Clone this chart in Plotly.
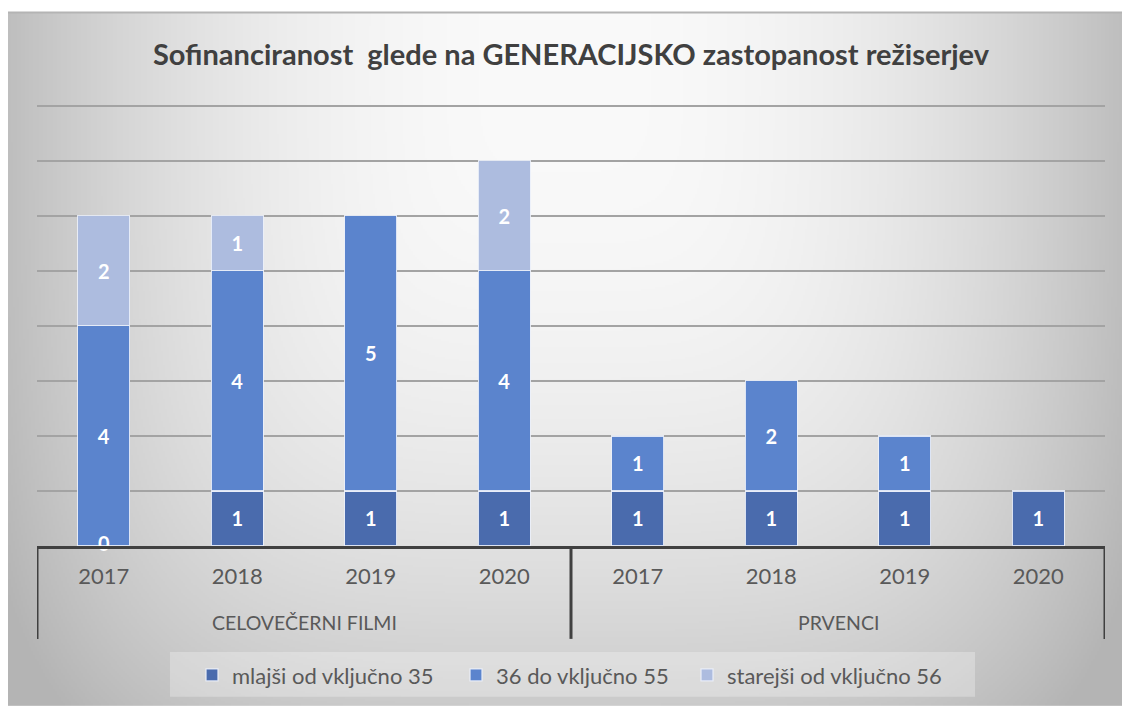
import base64, struct, zlib
import numpy as np
import plotly.graph_objects as go

# ---------------- data ----------------
groups = ["CELOVEČERNI FILMI"] * 4 + ["PRVENCI"] * 4
years = ["2017", "2018", "2019", "2020", "2017", "2018", "2019", "2020"]
series_names = ["mlajši od vključno 35", "36 do vključno 55", "starejši od vključno 56"]
mlajsi = [0, 1, 1, 1, 1, 1, 1, 1]
srednji = [4, 4, 5, 4, 1, 2, 1, None]
starejsi = [2, 1, None, 2, None, None, None, None]
title_text = "Sofinanciranost  glede na GENERACIJSKO zastopanost režiserjev"

colors = ["#4a6bad", "#5b84cd", "#adbcdf"]
FONT = "Lato"

# ---------------- background gradient image ----------------
W, H = 557, 347
X, Y = np.meshgrid(np.linspace(8, 1122, W), np.linspace(13, 707, H))
dx = np.abs((X - 565) / 580.0)
dy = np.abs((Y - 60) / 750.0)
d = (dx ** 4 + dy ** 4) ** 0.25
v = np.clip(250 - 65 * d ** 2.2, 180, 255).astype(np.uint8)
arr = np.stack([v, v, v], axis=-1)
raw = b"".join(b"\x00" + row.tobytes() for row in arr)


def chunk(t, data):
    return struct.pack(">I", len(data)) + t + data + struct.pack(">I", zlib.crc32(t + data) & 0xFFFFFFFF)


png = (b"\x89PNG\r\n\x1a\n" + chunk(b"IHDR", struct.pack(">IIBBBBB", W, H, 8, 2, 0, 0, 0))
       + chunk(b"IDAT", zlib.compress(raw, 9)) + chunk(b"IEND", b""))
bg_uri = "data:image/png;base64," + base64.b64encode(png).decode()

# ---------------- figure ----------------
FW, FH = 1122, 707
YMAX = 8
EXTRA = 0.1
L, R, B = 37, 1105, 547
T_GRID = 106
unit = (B - T_GRID) / YMAX
T = T_GRID - EXTRA * unit
pw, ph = R - L, B - T


def px_x(p):
    return (p - L) / pw


def px_y(p):
    return (B - p) / ph


keys = [f"{g}|{y}" for g, y in zip(groups, years)]
legend_ids = ["legend", "legend2", "legend3"]
legend_px = [192, 456, 687]

fig = go.Figure()
for name, vals, col, lid in zip(series_names, [mlajsi, srednji, starejsi], colors, legend_ids):
    fig.add_trace(go.Bar(
        x=keys, y=vals, name=name, legend=lid,
        marker=dict(color=col, line=dict(color="rgba(235,240,250,0.9)", width=1.3)),
        text=[("" if (val is None or val == 0) else str(val)) for val in vals],
        textposition="inside", insidetextanchor="middle", textangle=0,
        constraintext="none",
        textfont=dict(family=FONT, size=20, color="white", weight="bold"),
        hoverinfo="skip",
    ))

# zero-valued labels shown at the baseline
zk = [k for k, val in zip(keys, mlajsi) if val == 0]
fig.add_trace(go.Scatter(
    x=zk, y=[0] * len(zk), mode="text", text=["0"] * len(zk),
    textposition="middle center", showlegend=False, cliponaxis=False,
    textfont=dict(family=FONT, size=20, color="white", weight="bold"), hoverinfo="skip",
))

# group labels and dividers
shapes = [
    dict(type="line", xref="paper", yref="paper", x0=px_x(8), x1=px_x(FW), y0=px_y(13), y1=px_y(13),
         line=dict(color="#b4b4b4", width=2)),
    dict(type="rect", xref="paper", yref="paper", x0=px_x(170), x1=px_x(975), y0=px_y(653), y1=px_y(698),
         fillcolor="rgba(255,255,255,0.28)", line=dict(width=0)),
]
annotations = []
uniq = []
for g in groups:
    if g not in uniq:
        uniq.append(g)
bounds = [-0.5]
for g in uniq:
    idx = [i for i, gg in enumerate(groups) if gg == g]
    annotations.append(dict(text=g, x=sum(idx) / len(idx), xref="x", y=px_y(624), yref="paper",
                            showarrow=False, xanchor="center", yanchor="middle",
                            font=dict(family=FONT, size=19.5, color="#595959")))
    bounds.append(idx[-1] + 0.5)
for b in bounds:
    shapes.append(dict(type="line", xref="x", yref="paper", x0=b, x1=b, y0=0, y1=px_y(640),
                       line=dict(color="#404040", width=3)))

legend_style = dict(orientation="h", xanchor="left", y=px_y(675), yanchor="middle",
                    bgcolor="rgba(0,0,0,0)", font=dict(family=FONT, size=22, color="#595959"),
                    itemwidth=30)
legends = {}
for lid, lx in zip(legend_ids, legend_px):
    legends[lid] = dict(legend_style, x=px_x(lx))

fig.update_layout(
    width=FW, height=FH,
    margin=dict(l=L, r=FW - R, t=T, b=FH - B, pad=0),
    barmode="stack", bargap=0.61,
    paper_bgcolor="white", plot_bgcolor="rgba(0,0,0,0)",
    font=dict(family=FONT, color="#595959"),
    title=dict(text=title_text, x=571 / FW, xanchor="center", xref="container",
               y=1 - 55 / FH, yanchor="middle", yref="container",
               font=dict(family=FONT, size=29, color="#404040", weight="bold")),
    showlegend=True,
    images=[dict(source=bg_uri, xref="paper", yref="paper", x=px_x(8), y=px_y(13),
                 sizex=(FW - 8) / pw, sizey=(FH - 13) / ph, sizing="stretch",
                 xanchor="left", yanchor="top", layer="below")],
    shapes=shapes,
    annotations=annotations,
    **legends,
)
fig.update_yaxes(range=[0, YMAX + EXTRA], tickvals=list(range(0, YMAX + 1)), showticklabels=False,
                 showgrid=True, gridcolor="#a3a3a3", gridwidth=1.8, zeroline=False, showline=False)
fig.update_xaxes(type="category", categoryorder="array", categoryarray=keys,
                 range=[-0.5, len(keys) - 0.5],
                 tickmode="array", tickvals=keys, ticktext=years,
                 showline=True, linecolor="#404040", linewidth=3,
                 tickfont=dict(family=FONT, size=22, color="#595959"), showgrid=False, ticks="",
                 ticklabelstandoff=9)

fig.write_html("out.html", config={"displayModeBar": False},
               post_script="document.body.style.margin='0px';document.body.style.overflow='hidden';")
